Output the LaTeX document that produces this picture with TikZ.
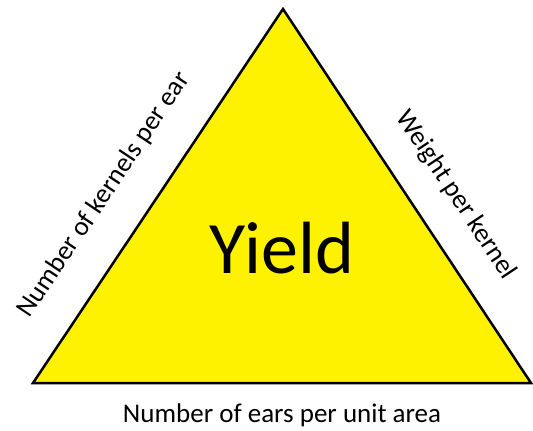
\documentclass[tikz,border=0pt]{standalone}
\usepackage{fontspec}
\setmainfont{Carlito}
\begin{document}
\begin{tikzpicture}[x=1pt,y=-1pt,
  lbl/.style={font=\fontsize{27}{32}\selectfont, inner sep=0pt}]
\useasboundingbox (0,0) rectangle (533,431);
\coordinate (A) at (283,9);
\coordinate (L) at (33,383);
\coordinate (R) at (531,383);
\draw[line width=2.5pt, fill=yellow, line join=miter] (A) -- (R) -- (L) -- cycle;
\node[font=\fontsize{74}{84}\selectfont, inner sep=0pt] (yield) at (282,248) {Yield};
\node[lbl] (bottom) at (282,415) {Number of ears per unit area};
\node[lbl, rotate=56.2] (left) at (104,195) {Number of kernels per ear};
\node[lbl, rotate=-56.4] (right) at (456,195) {Weight per kernel};
\end{tikzpicture}
\end{document}
